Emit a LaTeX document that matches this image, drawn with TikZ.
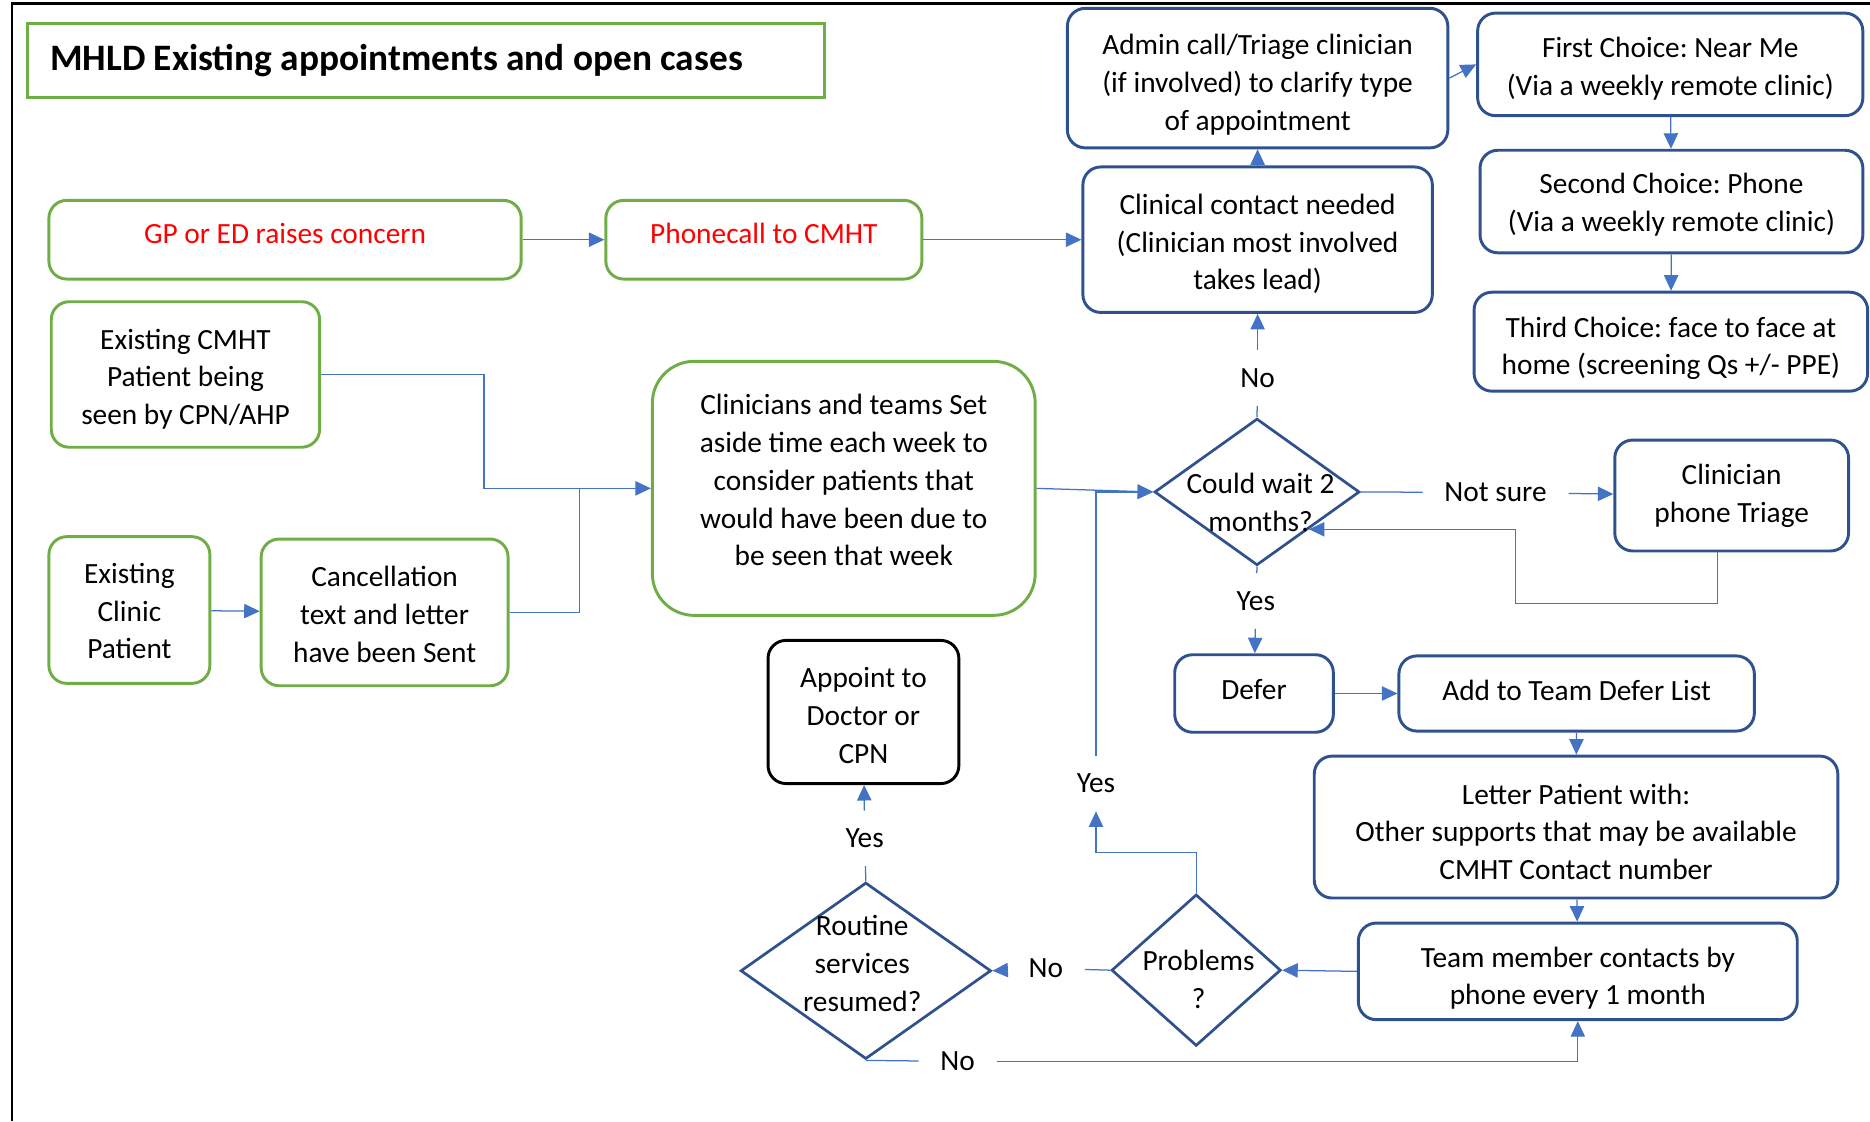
\documentclass[tikz,border=0pt]{standalone}
\usepackage{fontspec}
\setmainfont{Carlito}
\frenchspacing
\usetikzlibrary{arrows.meta, positioning, shapes.geometric, calc}
\definecolor{boxgreen}{HTML}{70AD47}
\definecolor{boxblue}{HTML}{2F528F}
\definecolor{linkblue}{HTML}{4472C4}

\begin{document}
\begin{tikzpicture}[x=0.2mm, y=-0.2mm,
  every node/.style={font=\fontsize{14}{18}\selectfont},
  gbox/.style={rectangle, rounded corners=3mm, draw=boxgreen, line width=1.4pt, align=center, inner sep=0pt},
  bbox/.style={rectangle, rounded corners=3mm, draw=boxblue, line width=1.4pt, align=center, inner sep=0pt},
  dec/.style={diamond, draw=boxblue, line width=1.3pt, inner sep=0pt},
  dtext/.style={align=center},
  lbl/.style={inner xsep=3.6mm, inner ysep=3mm},
  e/.style={-{Triangle[length=2.6mm, width=2.4mm]}, linkblue, line width=0.6pt},
  ln/.style={linkblue, line width=0.6pt}]
  \useasboundingbox (0,0) rectangle (1568,940);
  \draw[line width=1.1pt] (10,940) -- (10,3) -- (1568,3);

  \node[gbox, rounded corners=0pt, minimum width=133.6mm, minimum height=12.4mm, text width=126mm, inner xsep=3.8mm, align=flush left,
        font=\bfseries\fontsize{17.8}{21}\selectfont] (title) at (357,51) {MHLD Existing appointments and open cases};

  \node[gbox, minimum width=79.2mm, minimum height=13.2mm, text depth=5.7pt, text=red] (gp) at (239,201) {GP or ED raises concern};
  \node[gbox, minimum width=53mm, minimum height=13.2mm, text depth=5.7pt, text=red] (phone) at (640.5,201) {Phonecall to CMHT};
  \node[bbox, minimum width=58.6mm, minimum height=24.4mm, text height=49.9pt] (contact) at (1054.5,201) {Clinical contact needed\\(Clinician most involved\\takes lead)};
  \node[bbox, minimum width=63.8mm, minimum height=23.4mm, text height=52.2pt] (admin) at (1054.5,65.5) {Admin call/Triage clinician\\(if involved) to clarify type\\of appointment};
  \node[bbox, minimum width=64.6mm, minimum height=17.2mm, text height=32pt] (first) at (1400.5,54) {First Choice: Near Me\\(Via a weekly remote clinic)};
  \node[bbox, minimum width=64.2mm, minimum height=17.2mm, text height=30.8pt] (second) at (1401.5,169) {Second Choice: Phone\\(Via a weekly remote clinic)};
  \node[bbox, minimum width=66mm, minimum height=16.6mm, text height=34.1pt] (third) at (1401,286.5) {Third Choice: face to face at\\home (screening Qs +/- PPE)};

  \node[gbox, minimum width=45mm, minimum height=24.4mm, text height=50.1pt] (cmht) at (155.5,314) {Existing CMHT\\Patient being\\seen by CPN/AHP};
  \node[gbox, minimum width=27mm, minimum height=24.6mm, text height=46.7pt] (clinic) at (108.5,511.5) {Existing\\Clinic\\Patient};
  \node[gbox, minimum width=41.4mm, minimum height=24.6mm, text height=47.8pt] (cancel) at (322.5,513.5) {Cancellation\\text and letter\\have been Sent};
  \node[gbox, rounded corners=7mm, minimum width=64.2mm, minimum height=42.6mm, text height=74pt] (weekly) at (707.5,409.5) {Clinicians and teams Set\\aside time each week to\\consider patients that\\would have been due to\\be seen that week};

  \node[dec, minimum width=34.4mm, minimum height=24.6mm] (wait) at (1054,412.5) {};
  \node[dtext] at (1057,421) {Could wait 2\\months?};
  \node[bbox, minimum width=39.2mm, minimum height=18.6mm] (triage) at (1452,415.5) {Clinician\\phone Triage};
  \node[bbox, minimum width=26.6mm, minimum height=13mm, text depth=3.4pt] (defer) at (1051.5,581.5) {Defer};
  \node[bbox, minimum width=59.6mm, minimum height=12.6mm, text depth=3.4pt] (deferlist) at (1322,581.5) {Add to Team Defer List};
  \node[bbox, minimum width=87.8mm, minimum height=23.8mm, text height=50.1pt] (letter) at (1321.5,693.5) {Letter Patient with:\\Other supports that may be available\\CMHT Contact number};
  \node[bbox, minimum width=73.6mm, minimum height=16.2mm, text height=34.1pt] (monthly) at (1323,814.5) {Team member contacts by\\phone every 1 month};
  \node[dec, minimum width=28.4mm, minimum height=25.4mm] (problems) at (1003,813.5) {};
  \node[dtext] at (1005,821) {Problems\\?};
  \node[dec, minimum width=42mm, minimum height=29.6mm] (resumed) at (726,814) {};
  \node[dtext] at (723,808) {Routine\\services\\resumed?};
  \node[bbox, draw=black, minimum width=32mm, minimum height=24mm, text height=49.1pt] (appoint) at (724,597) {Appoint to\\Doctor or\\CPN};

  \node[lbl] (no1) at (1054.5,317) {No};
  \node[lbl] (notsure) at (1254,413) {Not sure};
  \node[lbl] (yes1) at (1053,504) {Yes};
  \node[lbl] (yes2) at (919,657) {Yes};
  \node[lbl] (no2) at (877,812) {No};
  \node[lbl] (yes3) at (725,703) {Yes};
  \node[lbl] (no3) at (803,890) {No};

  \draw[e] (gp) -- (phone);
  \draw[e] (phone) -- (contact);
  \draw[e] (contact) -- (admin);
  \draw[e] (admin.east) -- (first.west);
  \draw[e] (first) -- (second);
  \draw[e] (second) -- (third);
  \draw[e] (clinic) -- (cancel);
  \draw[e] (cmht.east) -| ($(weekly.west)+(-140,0)$) -- (weekly.west);
  \draw[ln] (cancel.east) -| ($(weekly.west)+(-60,0)$);
  \draw[e] (weekly.east) -- (wait.west);
  \draw[ln] (wait.north) -- (no1);
  \draw[e] (no1) -- (contact);
  \draw[ln] (wait.east) -- (notsure);
  \draw[e] (notsure) -- (triage);
  \draw[e] ($(triage.south)+(-12,0)$) -- ++(0,43) -| ($(wait.south east)+(173,0)$) -- (wait.south east);
  \draw[ln] (wait.south) -- (yes1);
  \draw[e] (yes1) -- (defer);
  \draw[e] (defer) -- (deferlist);
  \draw[e] (deferlist) -- (letter);
  \draw[e] (letter) -- (monthly);
  \draw[e] (monthly.west) -- (problems.east);
  \draw[ln] (problems.west) -- (no2);
  \draw[e] (no2) -- (resumed.east);
  \draw[e] (problems.north) -- ++(0,-34) -| (yes2);
  \draw[e] (yes2) |- (wait.west);
  \draw[ln] (resumed.north) -- (yes3);
  \draw[e] (yes3) -- (appoint);
  \draw[ln] (resumed.south) -- (no3);
  \draw[e] (no3.east) -| (monthly.south);
\end{tikzpicture}
\end{document}
